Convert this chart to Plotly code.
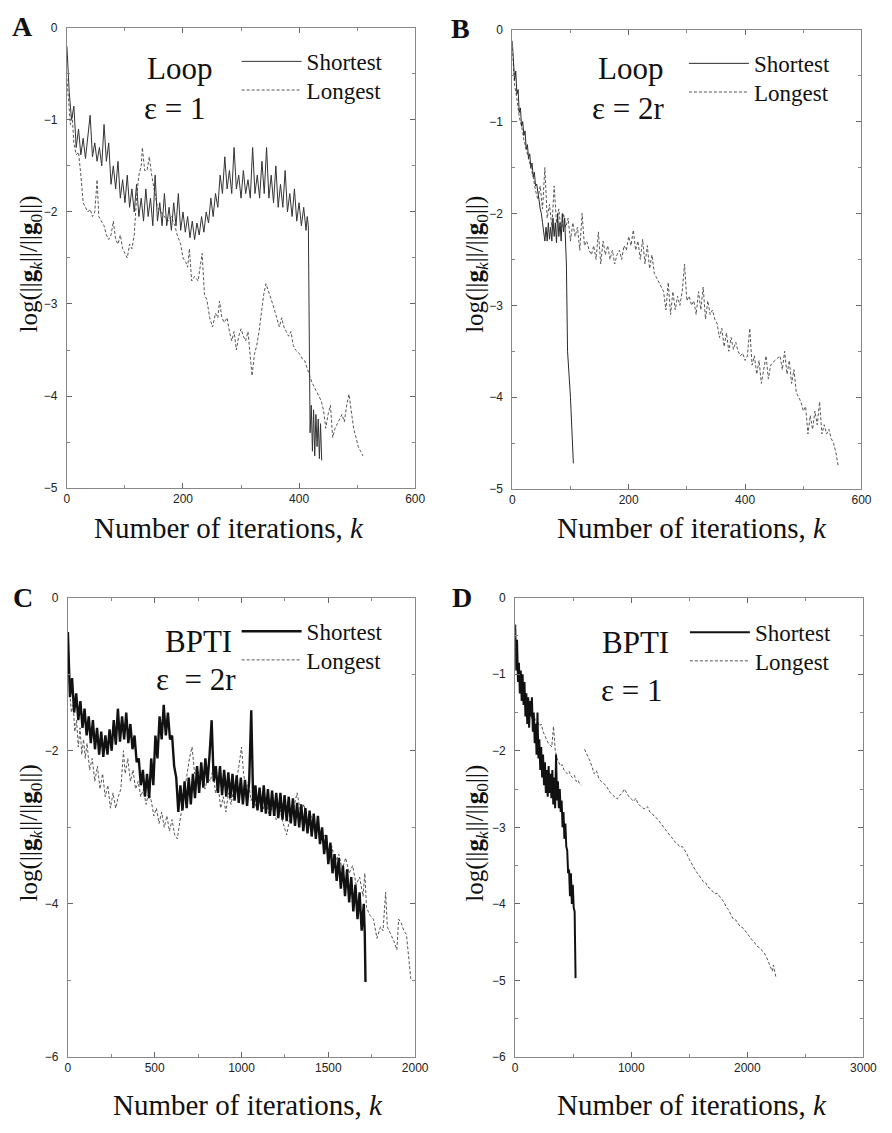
import plotly.graph_objects as go

# ---- data ----
# A: Loop, eps = 1
a_short_y = [
    -0.20, -0.70, -1.00, -0.85, -1.30, -1.10, -1.38, -1.20, -1.42, -1.15,
    -0.95, -1.40, -1.25, -1.45, -1.30, -1.50, -1.05, -1.45, -1.25, -1.70,
    -1.50, -1.75, -1.45, -1.85, -1.65, -1.90, -1.60, -1.95, -1.75, -2.00,
    -1.70, -2.05, -1.85, -2.10, -1.75, -2.05, -1.85, -2.15, -1.60, -2.10,
    -1.90, -2.15, -1.80, -2.15, -1.95, -2.20, -1.90, -2.15, -1.80, -2.20,
    -2.00, -2.22, -2.05, -2.28, -2.10, -2.30, -2.12, -2.25, -2.05, -2.22,
    -2.00, -2.12, -1.85, -2.05, -1.80, -1.95, -1.60, -1.80, -1.40, -1.75,
    -1.55, -1.80, -1.30, -1.75, -1.60, -1.85, -1.55, -1.80, -1.65, -1.85,
    -1.30, -1.80, -1.60, -1.85, -1.45, -1.80, -1.30, -1.85, -1.60, -1.90,
    -1.50, -1.95, -1.70, -1.95, -1.55, -2.00, -1.80, -2.05, -1.75, -2.10,
    -1.90, -2.15, -1.95, -2.20,
    -2.05, -2.15, -2.70, -3.50, -4.40, -4.10, -4.60, -4.15, -4.65, -4.20,
    -4.55, -4.25, -4.68, -4.30, -4.70,
]
a_short_k = list(range(0, 413, 4)) + [414, 416, 417, 418, 419, 421, 423, 425,
                                      427, 429, 431, 433, 435, 437, 439]

a_long_k = [0, 3, 6, 9, 12, 16, 20, 24, 28, 32, 36, 40, 44, 48, 52, 55, 60, 64,
            68, 72, 76, 80, 84, 88, 92, 96, 100, 104, 108, 112, 116, 120, 124,
            128, 130, 134, 138, 142, 146, 150, 156, 162, 168, 174, 180, 186,
            190, 196, 200, 205, 208, 211, 215, 220, 226, 230, 233, 237, 241,
            246, 251, 256, 260, 263, 267, 271, 276, 280, 284, 288, 292, 296,
            300, 304, 308, 312, 316, 319, 323, 327, 331, 335, 339, 343, 347,
            352, 357, 362, 366, 370, 374, 378, 382, 386, 390, 394, 398, 402,
            406, 410, 414, 418, 422, 426, 430, 434, 438, 442, 446, 450, 454,
            458, 462, 466, 470, 474, 478, 482, 486, 490, 494, 498, 502, 506, 510]
a_long_y = [-0.55, -0.85, -1.05, -0.95, -1.25, -1.38, -1.35, -1.60, -1.90, -1.95,
            -2.00, -1.97, -2.05, -2.00, -1.65, -2.05, -2.10, -2.15, -2.25, -2.30,
            -2.25, -2.10, -2.30, -2.35, -2.25, -2.40, -2.45, -2.50, -2.35, -2.40,
            -2.25, -1.85, -1.60, -1.50, -1.30, -1.55, -1.55, -1.40, -1.60, -1.75,
            -1.95, -2.00, -2.05, -2.10, -2.05, -2.15, -2.25, -2.35, -2.50, -2.55,
            -2.60, -2.40, -2.75, -2.70, -2.75, -2.60, -2.45, -2.90, -2.95, -3.15,
            -3.25, -3.10, -3.15, -2.97, -3.15, -3.20, -3.15, -3.30, -3.40, -3.30,
            -3.50, -3.35, -3.27, -3.35, -3.40, -3.30, -3.60, -3.78, -3.55, -3.45,
            -3.30, -3.10, -2.90, -2.78, -2.85, -2.95, -3.05, -3.18, -3.25, -3.15,
            -3.25, -3.30, -3.35, -3.30, -3.45, -3.50, -3.52, -3.55, -3.60, -3.62,
            -3.70, -3.78, -3.85, -3.90, -3.95, -4.00, -4.05, -4.15, -4.35, -4.20,
            -4.10, -4.45, -4.35, -4.30, -4.25, -4.20, -4.28, -4.10, -3.98, -4.20,
            -4.35, -4.45, -4.55, -4.60, -4.65]

# B: Loop, eps = 2r
b_short_k = list(range(0, 93, 2)) + [93, 95, 100, 105]
b_short_y = [-0.12, -0.30, -0.55, -0.45, -0.70, -0.65, -0.90, -0.85, -1.05, -1.00,
             -1.15, -1.10, -1.30, -1.25, -1.40, -1.35, -1.50, -1.45, -1.60, -1.55,
             -1.70, -1.68, -1.80, -1.85, -1.95, -2.00, -2.10, -2.20, -2.30, -2.15,
             -2.30, -2.10, -2.28, -2.15, -2.30, -2.05, -2.25, -2.10, -2.32, -2.00,
             -2.25, -2.10, -2.30, -2.00, -2.20, -2.05, -2.35,
             -2.55, -3.50, -4.00, -4.72]

b_long_k = list(range(0, 561, 4))
b_long_y = [-0.20, -0.60, -0.75, -0.95, -1.05, -1.20, -1.30, -1.40, -1.50, -1.60,
            -1.75, -1.85, -1.70, -1.95, -1.50, -2.05, -1.90, -2.15, -1.70, -2.10,
            -1.95, -2.20, -2.00, -2.15, -2.05, -2.30, -2.10, -2.25, -2.15, -2.40,
            -2.00, -2.35, -2.30, -2.40, -2.45, -2.35, -2.50, -2.20, -2.55, -2.30,
            -2.45, -2.35, -2.50, -2.40, -2.55, -2.45, -2.40, -2.50, -2.35, -2.40,
            -2.25, -2.35, -2.18, -2.40, -2.30, -2.50, -2.28, -2.55, -2.35, -2.60,
            -2.45, -2.65, -2.70, -2.75, -2.80, -2.85, -3.05, -2.75, -3.10, -2.85,
            -3.05, -2.90, -3.00, -2.85, -2.55, -2.95, -2.90, -3.00, -2.95, -3.10,
            -2.85, -3.05, -2.80, -3.15, -2.95, -3.10, -3.05, -3.15, -3.20, -3.35,
            -3.25, -3.45, -3.30, -3.50, -3.35, -3.48, -3.40, -3.50, -3.55, -3.52,
            -3.60, -3.55, -3.25, -3.65, -3.55, -3.75, -3.60, -3.85, -3.70, -3.55,
            -3.80, -3.65, -3.62, -3.60, -3.58, -3.55, -3.70, -3.50, -3.75, -3.60,
            -3.85, -3.70, -3.95, -4.00, -4.05, -4.15, -4.10, -4.40, -4.20, -4.35,
            -4.15, -4.30, -4.05, -4.40, -4.30, -4.40, -4.35, -4.45, -4.50, -4.60,
            -4.75]

# C: BPTI, eps = 2r
c_short_k = list(range(0, 1705, 12)) + [1710, 1714]
c_short_y = [
    -0.45, -1.30, -1.05, -1.50, -1.25, -1.60, -1.35, -1.70, -1.45, -1.80,
    -1.55, -1.90, -1.60, -1.98, -1.70, -2.05, -1.75, -2.08, -1.80, -2.05,
    -1.72, -2.00, -1.60, -1.92, -1.45, -1.88, -1.55, -1.85, -1.50, -1.90,
    -1.65, -1.98, -1.80, -2.15, -2.10, -2.45, -2.25, -2.60, -2.30, -2.62,
    -2.10, -2.45, -1.80, -2.10, -1.55, -1.85, -1.40, -1.80, -1.50, -1.85,
    -1.80, -2.20, -2.35, -2.80, -2.45, -2.78, -2.40, -2.75, -2.35, -2.70,
    -2.30, -2.62, -2.20, -2.55, -2.15, -2.48, -2.10, -2.42, -2.05, -1.60,
    -2.40, -2.20, -2.55, -2.20, -2.58, -2.25, -2.60, -2.28, -2.62, -2.30,
    -2.65, -2.32, -2.68, -2.35, -2.70, -2.38, -2.72, -2.40, -1.47, -2.75,
    -2.45, -2.78, -2.48, -2.80, -2.45, -2.82, -2.50, -2.85, -2.52, -2.85,
    -2.55, -2.88, -2.55, -2.90, -2.58, -2.92, -2.60, -2.95, -2.62, -2.98,
    -2.68, -3.00, -2.70, -3.05, -2.75, -3.08, -2.78, -3.12, -2.82, -3.15,
    -2.85, -3.22, -3.00, -3.35, -3.10, -3.48, -3.20, -3.60, -3.35, -3.70,
    -3.40, -3.80, -3.50, -3.90, -3.55, -3.98, -3.65, -4.10, -3.75, -4.20,
    -3.85, -4.35, -4.00,
    -4.40, -5.02,
]

c_long_k = [0, 10, 20, 30, 40, 50, 60, 70, 80, 90, 100, 110, 125, 140, 155, 170,
            185, 200, 215, 230, 245, 260, 275, 290, 305, 320, 330, 345, 360, 375,
            390, 405, 420, 435, 450, 465, 480, 495, 510, 525, 540, 555, 570, 585,
            600, 615, 630, 645, 660, 680, 700, 715, 730, 745, 760, 775, 790, 805,
            820, 835, 850, 865, 880, 895, 910, 925, 940, 955, 970, 985, 1000, 1012,
            1025, 1040, 1055, 1070, 1085, 1100, 1120, 1140, 1160, 1180, 1200, 1220,
            1240, 1260, 1280, 1300, 1320, 1340, 1360, 1380, 1400, 1420, 1440, 1460,
            1480, 1500, 1520, 1540, 1560, 1580, 1600, 1620, 1640, 1660, 1680, 1700,
            1710, 1720, 1740, 1760, 1780, 1800, 1815, 1830, 1840, 1860, 1880, 1895,
            1905, 1920, 1935, 1950, 1965, 1975]
c_long_y = [-0.60, -1.20, -1.50, -1.40, -1.75, -1.60, -1.95, -1.70, -2.05, -1.85,
            -2.10, -1.90, -2.25, -2.10, -2.40, -2.20, -2.50, -2.30, -2.60, -2.45,
            -2.75, -2.55, -2.75, -2.60, -2.50, -2.00, -2.30, -2.10, -2.40, -2.25,
            -2.50, -2.40, -2.60, -2.50, -2.70, -2.55, -2.65, -2.85, -2.75, -2.95,
            -2.80, -3.00, -2.85, -3.05, -2.90, -3.10, -3.15, -2.95, -2.70, -2.40,
            -2.10, -1.95, -2.30, -2.20, -2.45, -2.30, -2.50, -2.35, -2.40, -2.25,
            -2.55, -2.45, -2.75, -2.60, -2.80, -2.55, -2.70, -2.50, -2.40, -2.20,
            -1.95, -2.30, -2.50, -2.40, -2.65, -2.55, -2.75, -2.60, -2.80, -2.65,
            -2.85, -2.70, -2.90, -2.75, -2.95, -3.10, -2.85, -2.75, -2.55, -2.80,
            -2.70, -2.95, -2.85, -3.05, -2.95, -3.15, -3.10, -3.30, -3.25, -3.45,
            -3.35, -3.55, -3.40, -3.60, -3.50, -3.75, -3.65, -3.90, -3.60, -4.05,
            -4.15, -4.20, -4.45, -4.30, -4.35, -3.85, -4.30, -4.40, -4.50, -4.60,
            -4.20, -4.25, -4.35, -4.40, -4.70, -4.98]

# D: BPTI, eps = 1
d_short_k = list(range(0, 521, 8))
d_short_y = [-0.35, -0.95, -0.55, -1.10, -0.85, -1.25, -0.95, -1.35, -1.00, -1.40,
             -1.10, -1.55, -1.25, -1.65, -1.30, -1.70, -1.35, -1.55, -1.30, -1.75,
             -1.50, -1.90, -1.65, -2.05, -1.50, -2.10, -1.85, -2.25, -1.95, -2.35,
             -2.05, -2.45, -2.15, -2.55, -2.25, -2.60, -2.20, -2.55, -2.30, -2.62,
             -2.25, -2.70, -2.35, -2.75, -2.05, -2.65, -2.40, -2.75, -2.50, -2.80,
             -2.65, -3.00, -2.80, -3.15, -2.95, -3.25, -3.30, -3.60, -3.55, -3.90,
             -3.60, -4.00, -3.75, -4.05, -4.10, -4.97]

d_long_k = [0, 12, 24, 36, 48, 60, 72, 84, 96, 108, 120, 135, 150, 165, 180, 195,
            210, 225, 240, 255, 270, 285, 300, 315, 330, 345, 360, 375, 390, 405,
            420, 435, 450, 465, 480, 495, 510, 525, 540, 555, 570, 585,
            597, 620, 640, 660, 680, 700, 720, 740, 760, 780, 800, 820, 840, 860,
            880, 900, 920, 940, 960, 980, 1000, 1020, 1040, 1060, 1080, 1100, 1120,
            1140, 1160, 1180, 1200, 1220, 1240, 1260, 1280, 1300, 1320, 1340, 1360,
            1380, 1400, 1420, 1440, 1460, 1480, 1500, 1520, 1540, 1560, 1580, 1600,
            1620, 1640, 1660, 1680, 1700, 1720, 1740, 1760, 1780, 1800, 1820, 1840,
            1860, 1880, 1900, 1920, 1940, 1960, 1980, 2000, 2020, 2040, 2060, 2080,
            2100, 2120, 2140, 2160, 2180, 2200, 2215, 2225, 2235, 2245]
d_long_y = [-0.40, -0.90, -1.00, -1.10, -1.15, -1.25, -1.30, -1.35, -1.40, -1.45,
            -1.50, -1.55, -1.60, -1.55, -1.65, -1.62, -1.68, -1.65, -1.75, -1.80,
            -1.85, -1.90, -1.92, -1.95, -1.68, -2.00, -2.10, -2.15, -2.20, -2.18,
            -2.25, -2.28, -2.30, -2.27, -2.33, -2.35, -2.32, -2.40, -2.38, -2.43,
            -2.45, None,
            -1.98, -2.05, -2.12, -2.20, -2.30, -2.26, -2.36, -2.40, -2.43, -2.45,
            -2.50, -2.55, -2.58, -2.60, -2.63, -2.58, -2.56, -2.50, -2.55, -2.60,
            -2.63, -2.66, -2.62, -2.70, -2.72, -2.75, -2.76, -2.73, -2.80, -2.82,
            -2.86, -2.88, -2.92, -2.96, -3.00, -3.05, -3.08, -3.12, -3.15, -3.20,
            -3.22, -3.26, -3.25, -3.30, -3.35, -3.42, -3.48, -3.53, -3.58, -3.62,
            -3.66, -3.71, -3.72, -3.78, -3.80, -3.83, -3.87, -3.86, -3.90, -3.93,
            -3.98, -4.05, -4.08, -4.15, -4.20, -4.21, -4.26, -4.30, -4.31, -4.35,
            -4.40, -4.44, -4.47, -4.50, -4.55, -4.57, -4.60, -4.63, -4.68, -4.75,
            -4.82, -4.88, -4.80, -4.90, -4.95]

# ---- figure ----
W, H = 892, 1133
OFF = 8  # the page body adds an 8px margin, so pull everything back by that
SERIF = "Liberation Serif, Times New Roman, serif"
SANS = "Liberation Sans, Arial, sans-serif"

def px(x):
    return (x - OFF) / W

def py(y):
    return 1 - (y - OFF) / H

panels = [
    # x domain px, y domain px, xmax, xdtick, ymin, ydtick, legend sample left
    ((65, 420), (21, 487), 600, 200, -5, 1, 243),
    ((519, 875), (23, 488), 600, 200, -5, 1, 699),
    ((66, 420), (598, 1063), 2000, 500, -6, 2, 243),
    ((522, 877), (598, 1063), 3000, 1000, -6, 1, 700),
]
legend_rows = [(55, 84), (57, 86), (632, 661), (633, 662)]

series = [
    (a_short_k, a_short_y, a_long_k, a_long_y),
    (b_short_k, b_short_y, b_long_k, b_long_y),
    (c_short_k, c_short_y, c_long_k, c_long_y),
    (d_short_k, d_short_y, d_long_k, d_long_y),
]
short_col = ["#333333", "#2a2a2a", "#111111", "#111111"]
short_w = [1, 1, 2.4, 2.0]

fig = go.Figure()
for i, (sk, sy, lk, ly) in enumerate(series):
    n = "" if i == 0 else str(i + 1)
    fig.add_trace(go.Scatter(x=lk, y=ly, mode="lines", name="Longest",
                             line=dict(color="#555555", width=1, dash="3px,2px"),
                             xaxis="x" + n, yaxis="y" + n,
                             legend="legend" + str(i + 5), connectgaps=False))
    fig.add_trace(go.Scatter(x=sk, y=sy, mode="lines", name="Shortest",
                             line=dict(color=short_col[i], width=short_w[i]),
                             xaxis="x" + n, yaxis="y" + n,
                             legend="legend" + n))

layout = dict(width=W, height=H, margin=dict(l=0, r=0, t=0, b=0),
              paper_bgcolor="white", plot_bgcolor="white", showlegend=True,
              font=dict(family=SERIF, color="#111"))

axfont = dict(family=SANS, size=12, color="#222")
legfont = dict(family=SERIF, size=23, color="#111")
for i, ((x0, x1), (y0, y1), xmax, xdt, ymin, ydt, lx) in enumerate(panels):
    n = "" if i == 0 else str(i + 1)
    layout["xaxis" + n] = dict(
        domain=[px(x0), px(x1)], range=[0, xmax], dtick=xdt, tick0=0,
        anchor="y" + n, ticks="inside", ticklen=5, tickcolor="#666",
        showline=True, linecolor="#888", linewidth=1, mirror="ticks",
        showgrid=False, zeroline=False, tickfont=axfont,
        minor=dict(ticks="inside", ticklen=3, dtick=xdt / 2, tickcolor="#888"))
    layout["yaxis" + n] = dict(
        domain=[py(y1), py(y0)], range=[ymin, 0], dtick=ydt, tick0=0,
        anchor="x" + n, ticks="inside", ticklen=5, tickcolor="#666",
        showline=True, linecolor="#888", linewidth=1, mirror="ticks",
        showgrid=False, zeroline=False, tickfont=axfont, ticklabelstandoff=6,
        minor=dict(ticks="inside", ticklen=3, dtick=ydt / 2, tickcolor="#888"))
    r1, r2 = legend_rows[i]
    for key, row in (("legend" + n, r1), ("legend" + str(i + 5), r2)):
        layout[key] = dict(x=px(lx - 5), y=py(row), xanchor="left",
                           yanchor="middle", bgcolor="rgba(0,0,0,0)",
                           font=legfont, itemwidth=60)

fig.update_layout(**layout)

ytitle = "log(||<b>g</b><sub><i>k</i></sub>||/||<b>g</b><sub>0</sub>||)"
xtitle = "Number of iterations, <i>k</i>"

notes = [
    # text, x, y, size, bold
    ("A", 20, 20, 28, True), ("B", 466, 22, 28, True),
    ("C", 20, 598, 28, True), ("D", 468, 598, 28, True),
    ("Loop", 180, 62, 31, False), ("ε = 1", 175, 103, 31, False),
    ("Loop", 640, 62, 31, False), ("ε = 2r", 638, 103, 31, False),
    ("BPTI", 199, 642, 31, False), ("ε  = 2r", 197, 681, 31, False),
    ("BPTI", 645, 643, 31, False), ("ε = 1", 641, 692, 31, False),
    (xtitle, 230, 527, 29, False), (xtitle, 702, 527, 29, False),
    (xtitle, 250, 1112, 29, False), (xtitle, 702, 1112, 29, False),
]
for text, x, y, size, bold in notes:
    fig.add_annotation(text=("<b>%s</b>" % text) if bold else text,
                       x=px(x), y=py(y), xref="paper", yref="paper",
                       showarrow=False, xanchor="center", yanchor="middle",
                       font=dict(family=SERIF, size=size, color="#111"))

for x, y in [(28, 260), (483, 260), (28, 836), (483, 836)]:
    fig.add_annotation(text=ytitle, x=px(x), y=py(y), xref="paper", yref="paper",
                       showarrow=False, textangle=-90, xanchor="center",
                       yanchor="middle", font=dict(family=SERIF, size=25, color="#111"))

fig.write_html("out.html")
